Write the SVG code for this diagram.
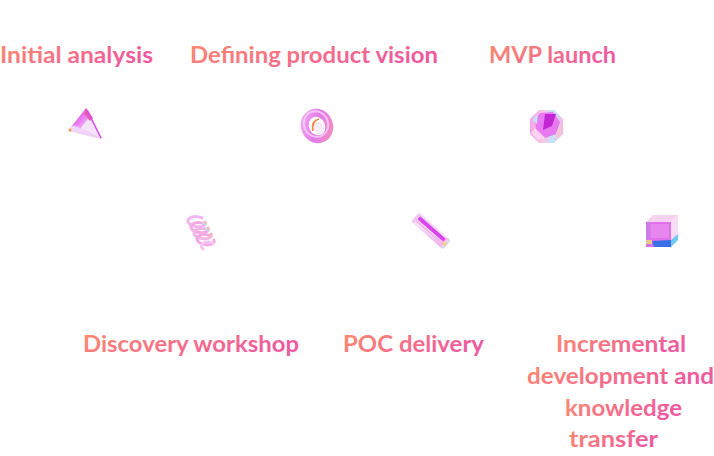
<svg xmlns="http://www.w3.org/2000/svg" width="714" height="456" viewBox="0 0 714 456">
<defs>
<linearGradient id="tg" x1="0" y1="0" x2="1" y2="0.4">
<stop offset="0" stop-color="#FF8D6B"/>
<stop offset="1" stop-color="#EE5A9F"/>
</linearGradient>
<linearGradient id="mag" x1="0" y1="0" x2="1" y2="1">
<stop offset="0" stop-color="#C93BEA"/>
<stop offset="0.5" stop-color="#E879F0"/>
<stop offset="1" stop-color="#F9D7FB"/>
</linearGradient>
<linearGradient id="tor" x1="0" y1="0" x2="1" y2="1">
<stop offset="0" stop-color="#F0A8F2"/>
<stop offset="0.5" stop-color="#E37BEA"/>
<stop offset="1" stop-color="#F28FBF"/>
</linearGradient>
<linearGradient id="lav" x1="0" y1="0" x2="1" y2="1">
<stop offset="0" stop-color="#F6C8F4"/>
<stop offset="0.5" stop-color="#F9E6FA"/>
<stop offset="1" stop-color="#E9A8F1"/>
</linearGradient>
<linearGradient id="iri" x1="0" y1="0" x2="1" y2="0">
<stop offset="0" stop-color="#F4A3E8"/>
<stop offset="0.4" stop-color="#FBC6E4"/>
<stop offset="0.7" stop-color="#BFE3FA"/>
<stop offset="1" stop-color="#F7B8E9"/>
</linearGradient>
<style>
.lbl{font-family:"Lato","Inter","Liberation Sans",sans-serif;font-weight:700;font-size:23px;fill:url(#tg)}
</style>
</defs>

<g id="node-initial-analysis">
<text class="lbl" x="0" y="63" textLength="153" lengthAdjust="spacingAndGlyphs">Initial analysis</text>
<g id="icon-cone">
<polygon points="86,108 102,139 68,131" fill="url(#lav)"/>
<polygon points="86,108 102,139 80,127" fill="#F3E4FA"/>
<polygon points="86,108 72,126 80,129 90,116" fill="url(#mag)"/>
<polygon points="86,108 93,118 90,121 84,114" fill="#E95FB0"/>
<path d="M68,131 Q72,122 80,128 L102,139 Z" fill="#EDD3F8" opacity="0.8"/>
<line x1="87" y1="110" x2="101" y2="138" stroke="#D946EF" stroke-width="1.5"/>
<circle cx="70" cy="130" r="1.5" fill="#F79B4A"/>
</g>
</g>

<g id="node-defining-product-vision">
<text class="lbl" x="190" y="63" textLength="248" lengthAdjust="spacingAndGlyphs">Defining product vision</text>
<g id="icon-torus">
<ellipse cx="317" cy="126" rx="12" ry="13.5" transform="rotate(-25 317 126)" fill="none" stroke="url(#tor)" stroke-width="8"/>
<ellipse cx="316" cy="124" rx="12" ry="13" transform="rotate(-25 316 124)" fill="none" stroke="#F6D2F6" stroke-width="2" opacity="0.8"/>
<ellipse cx="319" cy="128" rx="5" ry="6.5" transform="rotate(-25 319 128)" fill="#F8EEFB"/>
<path d="M313,131 Q311,121 319,119" fill="none" stroke="#F2873F" stroke-width="1.8"/>
</g>
</g>

<g id="node-mvp-launch">
<text class="lbl" x="489" y="63" textLength="127" lengthAdjust="spacingAndGlyphs">MVP launch</text>
<g id="icon-gem">
<polygon points="539,110 554,110 563,119 563,134 554,143 539,143 530,134 530,119" fill="url(#iri)"/>
<polygon points="540,113 553,112 560,122 556,134 545,138 536,130 535,119" fill="#E879F0"/>
<polygon points="545,114 556,114 552,126 543,130" fill="#C026D3"/>
<polygon points="535,128 545,138 538,140 531,133" fill="#F8D4F0"/>
<polygon points="556,134 561,122 562,133 555,141" fill="#F5C2D8"/>
<polygon points="532,120 538,114 537,124" fill="#C7DEFB"/>
</g>
</g>

<g id="node-discovery-workshop">
<text class="lbl" x="83" y="352" textLength="216" lengthAdjust="spacingAndGlyphs">Discovery workshop</text>
<g id="icon-spring" fill="none" stroke-width="3" stroke-linecap="round">
<path d="M202,218 C192,214 183,220 191,225 C197,228 207,227 205,222" stroke="#F3B6EE"/>
<path d="M205,224 C195,220 186,226 194,231 C200,234 210,233 208,228" stroke="#F2A9E6"/>
<path d="M208,230 C198,226 189,232 197,237 C203,240 213,239 211,234" stroke="#F4B4E4"/>
<path d="M211,236 C201,232 192,238 200,243 C206,246 216,245 214,240" stroke="#F2A9E6"/>
<path d="M213,243 C205,240 198,245 203,249" stroke="#F5C4EF"/>
<path d="M205,222 L205,224 M208,228 L208,230 M211,234 L211,236" stroke="#F8B9A8" stroke-width="2.5"/>
<path d="M203,223 L206,225 M206,229 L209,231" stroke="#B8E3F5" stroke-width="1.5"/>
</g>
</g>

<g id="node-poc-delivery">
<text class="lbl" x="343" y="352" textLength="141" lengthAdjust="spacingAndGlyphs">POC delivery</text>
<g id="icon-rod" transform="rotate(41 431 231)">
<rect x="410" y="225" width="42" height="12" rx="4" fill="url(#lav)"/>
<rect x="413" y="227" width="35" height="4" fill="#D946EF"/>
<rect x="413" y="232" width="35" height="2" fill="#F5B8E8"/>
<rect x="447" y="225" width="5" height="12" rx="2" fill="url(#iri)"/>
<rect x="410" y="225" width="3" height="12" rx="1.5" fill="#F3C3F3"/>
<rect x="448" y="230" width="3" height="3" fill="#F6D36A"/>
</g>
</g>

<g id="node-incremental-development">
<text class="lbl" x="556" y="352" textLength="130" lengthAdjust="spacingAndGlyphs">Incremental</text>
<text class="lbl" x="527" y="384" textLength="187" lengthAdjust="spacingAndGlyphs">development and</text>
<text class="lbl" x="565" y="416" textLength="117" lengthAdjust="spacingAndGlyphs">knowledge</text>
<text class="lbl" x="569" y="447" textLength="89" lengthAdjust="spacingAndGlyphs">transfer</text>
<g id="icon-cube">
<polygon points="646,222 653,215 678,215 671,222" fill="#F7D3F1"/>
<polygon points="671,222 678,215 678,240 671,247" fill="#F6DDF5"/>
<rect x="646" y="222" width="25" height="25" fill="#E070EA"/>
<rect x="650" y="224" width="19" height="14" fill="#E995F0" opacity="0.6"/>
<rect x="646" y="222" width="5" height="25" fill="#C77DEB" opacity="0.7"/>
<polygon points="652,241 671,240 671,247 654,247" fill="#3B6FE8"/>
<polygon points="671,240 678,234 678,240 671,247" fill="#6FC7F5"/>
<rect x="646" y="240" width="6" height="4" fill="#F3D77A" opacity="0.8"/>
</g>
</g>

<g id="connectors"></g>
</svg>
